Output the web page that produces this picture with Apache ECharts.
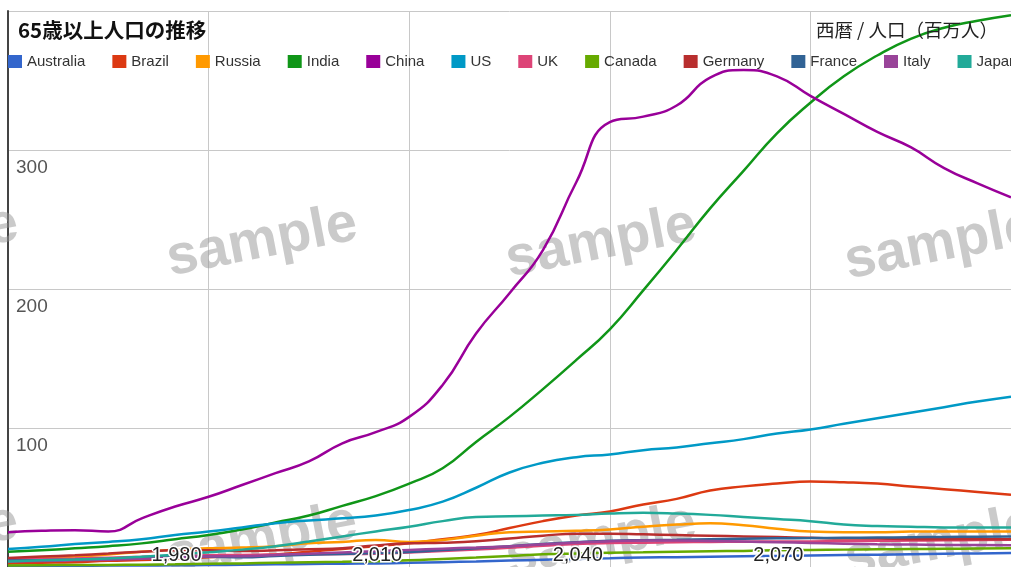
<!DOCTYPE html>
<html lang="ja">
<head>
<meta charset="utf-8">
<title>65歳以上人口の推移</title>
<script src="https://cdn.jsdelivr.net/npm/echarts@6/dist/echarts.min.js"></script>
<style>
  html, body { margin: 0; padding: 0; background: #fff; }
  #chart { width: 1011px; height: 567px; }
</style>
</head>
<body>
<div id="chart"></div>
<script>
// years 1950 - 2100, every 5 years
const years = [1950, 1955, 1960, 1965, 1970, 1975, 1980, 1985, 1990, 1995, 2000,
  2005, 2010, 2015, 2020, 2025, 2030, 2035, 2040, 2045, 2050,
  2055, 2060, 2065, 2070, 2075, 2080, 2085, 2090, 2095, 2100]

const countries = ['Australia', 'Brazil', 'Russia', 'India', 'China', 'US',
  'UK', 'Canada', 'Germany', 'France', 'Italy', 'Japan']

const colors = ['#3366cc', '#dc3912', '#ff9900', '#109618', '#990099', '#0099c6',
  '#dd4477', '#66aa00', '#b82e2e', '#316395', '#994499', '#22aa99']

// 65+ population, millions
const australia = [0.7, 0.8, 0.9, 1.0, 1.1, 1.2, 1.4, 1.6, 1.9, 2.1, 2.4, 2.6, 3.0, 3.5, 4.0, 4.6,
  5.2, 5.8, 6.3, 6.8, 7.1, 7.4, 7.7, 8.0, 8.3, 8.6, 8.9, 9.2, 9.5, 9.8, 10.1]
const brazil = [2.5, 3, 3.5, 4.5, 5, 6, 7, 8, 9, 11, 13, 15, 17, 20, 23, 28,
  33, 37, 40, 45, 49, 55, 58, 60, 61.5, 61, 60, 58, 56, 54, 52]
const russia = [6, 6.5, 7.5, 9, 11, 12.5, 13.5, 14, 15, 17, 18, 19.5, 18, 19.5, 22.5, 25,
  25.5, 26, 27, 29, 30.5, 31.5, 30, 27.5, 25.5, 25, 25, 25.5, 25.5, 25.5, 25.5]
const india = [11, 12, 13.5, 15, 17, 20, 23, 27, 32, 37, 44, 51, 60, 71, 90, 108,
  128, 149, 171, 199, 228, 258, 285, 312, 334, 353, 368, 380, 388, 393, 397]
const china = [25, 26, 26.5, 25.5, 35, 43.5, 50.5, 59, 67.5, 76, 89, 97, 108, 131, 168, 197,
  228, 277, 320, 324, 332, 352, 357.5, 353, 339, 326, 313, 302, 287, 276, 266]
const us = [13, 14.5, 16.5, 18, 20, 23, 25.5, 28.5, 31.5, 33.5, 35, 37, 41, 47, 57, 68,
  75, 79, 81, 84, 86, 89, 92, 96, 99, 103, 107, 111, 115, 119, 122.5]
const uk = [5.4, 5.8, 6.2, 6.7, 7.3, 8.0, 8.5, 8.7, 9.0, 9.2, 9.3, 9.6, 10.5, 11.5, 12.5, 13.8,
  15.2, 16.5, 17.2, 17.5, 17.8, 18.0, 18.2, 18.3, 18.4, 18.6, 18.8, 19.0, 19.2, 19.4, 19.6]
const canada = [1.1, 1.3, 1.4, 1.5, 1.7, 1.9, 2.3, 2.6, 3.1, 3.5, 3.8, 4.2, 4.8, 5.8, 6.8, 8.0,
  9.2, 9.8, 10.3, 10.6, 11.0, 11.3, 11.6, 12.0, 12.3, 12.5, 12.7, 12.9, 13.1, 13.3, 13.5]
const germany = [6.5, 7.5, 8.5, 9.7, 11, 12, 12, 11.5, 12, 12.8, 13.5, 15.5, 17, 17.5, 18.5, 20.5,
  22.5, 24, 24, 23.5, 23, 22.5, 22, 21.5, 21, 20.5, 20.5, 20, 20, 20, 20]
const france = [4.6, 4.9, 5.3, 5.9, 6.6, 7.1, 7.4, 7.0, 7.9, 8.8, 9.4, 10.0, 10.8, 12.2, 13.5, 15.0,
  16.5, 17.8, 18.8, 19.3, 19.6, 20.0, 20.3, 20.6, 20.8, 21.0, 21.2, 21.4, 21.6, 21.8, 22.0]
const italy = [3.9, 4.3, 4.8, 5.3, 5.9, 6.6, 7.5, 7.8, 8.6, 9.6, 10.5, 11.3, 12.3, 13.2, 14.0, 15.0,
  16.3, 17.6, 18.6, 19.0, 19.0, 18.7, 18.3, 17.8, 17.3, 16.8, 16.4, 16.1, 15.9, 15.8, 15.7]
const japan = [4, 4.8, 5.4, 6.2, 7.4, 8.9, 10.6, 12.5, 14.9, 18.3, 22, 25.6, 29, 33, 36, 36.5,
  37, 37.5, 38.5, 39, 38.5, 37.5, 36, 34.5, 33, 30.5, 29.5, 29, 28.5, 28.5, 28.5]

const seriesValues = [australia, brazil, russia, india, china, us, uk, canada, germany, france, italy, japan]

const yTicks = [0, 100, 200, 300, 400]
const xTicks = [1950, 1980, 2010, 2040, 2070, 2100]

const chartTitle = '65歳以上人口の推移'
const unitLabel = '西暦 / 人口（百万人）'

// the "sample" stamps across the picture (centre x, centre y)
const stampSpots = [[-77, 242], [262, 242], [601, 243], [940, 245],
  [-77, 540], [262, 540], [601, 541], [940, 543]]

function formatYear(v) {
  return Number(v).toLocaleString('en-US')
}

const chart = echarts.init(document.getElementById('chart'), null, { renderer: 'canvas' })

const xBase = {
  type: 'value',
  position: 'bottom',
  offset: 0,
  min: xTicks[0],
  max: xTicks[xTicks.length - 1],
  interval: 30,
  axisLine: { show: false },
  axisTick: { show: false },
}

chart.setOption({
  animation: false,
  color: colors,
  title: [
    {
      text: chartTitle,
      left: 18,
      top: 20,
      padding: 0,
      textStyle: { fontFamily: 'Noto Sans CJK JP', fontSize: 20.5, fontWeight: 'bold', color: '#111' },
    },
    {
      text: unitLabel,
      right: 13,
      top: 21,
      padding: 0,
      textStyle: { fontFamily: 'Noto Sans CJK JP', fontSize: 18.5, fontWeight: 'normal', color: '#222' },
    },
  ],
  legend: {
    data: countries,
    left: 8,
    top: 54,
    width: 1400,
    padding: 0,
    icon: 'rect',
    itemWidth: 14,
    itemHeight: 13,
    itemGap: 27,
    textStyle: { fontFamily: 'Liberation Sans', fontSize: 15, color: '#333' },
  },
  grid: { left: 8, right: -7, top: 11, bottom: 0, containLabel: false },
  xAxis: [
    {
      ...xBase,
      splitLine: { show: true, lineStyle: { color: '#c8c8c8', width: 1 } },
      axisLabel: { show: false },
    },
    {
      // year labels sit above the lines, with a white halo
      ...xBase,
      z: 10,
      splitLine: { show: false },
      axisLabel: {
        inside: true,
        showMinLabel: false,
        showMaxLabel: false,
        margin: 2,
        align: 'right',
        padding: [0, 7, 0, 0],
        fontFamily: 'Liberation Sans',
        fontSize: 20,
        color: '#222',
        textBorderColor: '#fff',
        textBorderWidth: 3,
        formatter: formatYear,
      },
    },
  ],
  yAxis: {
    type: 'value',
    min: yTicks[0],
    max: yTicks[yTicks.length - 1],
    interval: 100,
    axisLine: { show: true, lineStyle: { color: '#444', width: 2 } },
    axisTick: { show: false },
    splitLine: { show: true, lineStyle: { color: '#c8c8c8', width: 1 } },
    axisLabel: {
      inside: true,
      showMinLabel: false,
      showMaxLabel: false,
      margin: 8,
      verticalAlign: 'top',
      padding: [8, 0, 0, 0],
      fontFamily: 'Liberation Sans',
      fontSize: 19,
      color: '#555',
    },
  },
  graphic: stampSpots.map(([x, y]) => ({
    type: 'text',
    x,
    y,
    rotation: 0.19,
    z: 1,
    silent: true,
    style: {
      text: 'sample',
      x: 0,
      y: 0,
      align: 'center',
      verticalAlign: 'middle',
      fontFamily: 'Liberation Sans',
      fontWeight: 'bold',
      fontSize: 56,
      fill: 'rgba(150,150,150,0.5)',
    },
  })),
  series: countries.map((name, i) => ({
    name,
    type: 'line',
    xAxisIndex: 0,
    smooth: true,
    showSymbol: false,
    z: 3,
    lineStyle: { width: 2.5 },
    data: years.map((yr, j) => [yr, seriesValues[i][j]]),
  })),
})
</script>
</body>
</html>
